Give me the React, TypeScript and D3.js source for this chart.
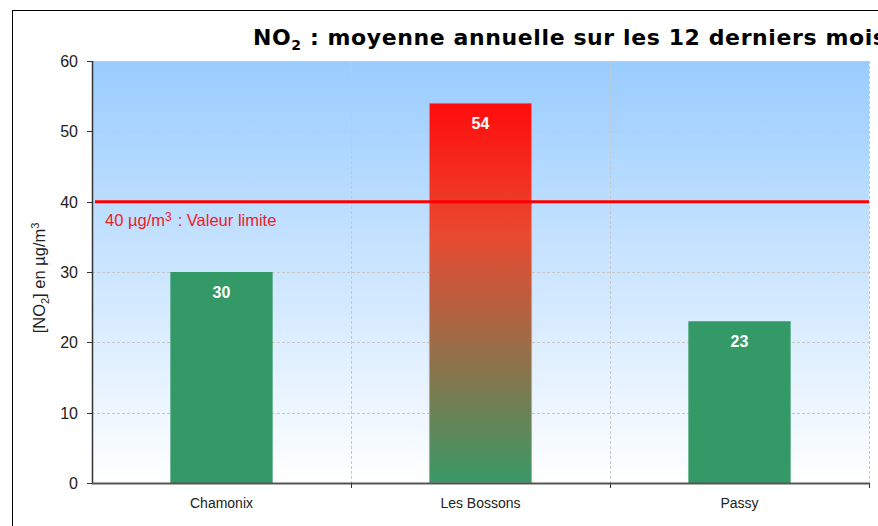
import * as d3 from "d3";

const stations = ["Chamonix", "Les Bossons", "Passy"];
const no2Values = [30, 54, 23];
const yTicks = [0, 10, 20, 30, 40, 50, 60];
const limitValue = 40;

const W = 878;
const H = 526;
const margin = { left: 92, top: 61, right: 9, bottom: 43 };

const App = () => {
  const innerW = W - margin.left - margin.right;
  const innerH = H - margin.top - margin.bottom;

  const x = d3.scaleBand<string>().domain(stations).range([0, innerW]).paddingInner(0).paddingOuter(0);
  const y = d3.scaleLinear().domain([0, 60]).range([innerH, 0]);
  const barW = x.bandwidth() * 0.395;

  const font = "'Liberation Sans', Arial, sans-serif";

  return (
    <div style={{ position: "fixed", left: 0, top: 0 }}>
      <svg width={W} height={H} style={{ display: "block", background: "#fff" }}>
        <defs>
          <linearGradient id="bg" x1="0" y1="0" x2="0" y2="1">
            <stop offset="0" stopColor="#99ccff" />
            <stop offset="1" stopColor="#ffffff" />
          </linearGradient>
          <linearGradient id="hot" x1="0" y1="0" x2="0" y2="1">
            <stop offset="0" stopColor="#ff0c0c" />
            <stop offset="0.35" stopColor="#e84a30" />
            <stop offset="1" stopColor="#3a9866" />
          </linearGradient>
        </defs>

        {/* outer frame */}
        <rect x={12.5} y={10.5} width={W} height={H} fill="none" stroke="#000" strokeWidth={1} />

        <text
          x={253}
          y={45}
          fontFamily="'DejaVu Sans', Verdana, sans-serif"
          fontWeight="bold"
          fontSize={22}
          letterSpacing={0.6}
          fill="#000"
        >
          NO<tspan fontSize={14} dy={5}>2</tspan>
          <tspan dy={-5}> : moyenne annuelle sur les 12 derniers mois</tspan>
        </text>

        <g transform={`translate(${margin.left},${margin.top})`}>
          <rect x={0} y={0} width={innerW} height={innerH} fill="url(#bg)" />

          {/* horizontal grid */}
          {yTicks.filter((t) => t > 0).map((t) => (
            <line
              key={"g" + t}
              x1={0}
              x2={innerW}
              y1={Math.round(y(t)) + 0.5}
              y2={Math.round(y(t)) + 0.5}
              stroke="#c8c8c8"
              strokeDasharray="3,2"
            />
          ))}
          {/* vertical grid */}
          {stations.map((s) => (
            <line
              key={"v" + s}
              x1={Math.round((x(s) ?? 0) + x.bandwidth()) + 0.5}
              x2={Math.round((x(s) ?? 0) + x.bandwidth()) + 0.5}
              y1={0}
              y2={innerH}
              stroke="#c8c8c8"
              strokeDasharray="3,2"
            />
          ))}

          {/* bars */}
          {stations.map((s, i) => {
            const v = no2Values[i];
            const bx = (x(s) ?? 0) + (x.bandwidth() - barW) / 2;
            const over = v > limitValue;
            return (
              <g key={s}>
                <rect
                  x={bx}
                  y={y(v)}
                  width={barW}
                  height={y(0) - y(v)}
                  fill={over ? "url(#hot)" : "#339966"}
                  stroke={over ? "#d9a0a0" : "none"}
                  strokeOpacity={0.6}
                  strokeWidth={1}
                />
                <text
                  x={bx + barW / 2}
                  y={y(v) + 26}
                  textAnchor="middle"
                  fontFamily={font}
                  fontWeight="bold"
                  fontSize={16}
                  fill="#fff"
                >
                  {v}
                </text>
              </g>
            );
          })}

          {/* limit line */}
          <line x1={3} x2={innerW} y1={y(limitValue)} y2={y(limitValue)} stroke="#ff0000" strokeWidth={3} />
          <text x={13} y={y(limitValue) + 24} fontFamily={font} fontSize={16.5} fill="#ee1c25">
            {limitValue} µg/m<tspan fontSize={12} dy={-5}>3</tspan>
            <tspan dy={5} dx={6}>: Valeur limite</tspan>
          </text>

          {/* y axis */}
          <line x1={0.5} x2={0.5} y1={0} y2={innerH} stroke="#333" strokeWidth={1.5} />
          {yTicks.map((t) => (
            <g key={"t" + t} transform={`translate(0,${Math.round(y(t)) + 0.5})`}>
              <line x1={-5} x2={0} stroke="#333" />
              <text x={-14} dy="0.35em" textAnchor="end" fontFamily={font} fontSize={16} fill="#222">
                {t}
              </text>
            </g>
          ))}

          {/* x axis */}
          <line x1={0} x2={innerW} y1={innerH + 0.5} y2={innerH + 0.5} stroke="#555" strokeWidth={2} />
          {stations.map((s) => (
            <g key={"x" + s}>
              <line
                x1={Math.round((x(s) ?? 0) + x.bandwidth()) + 0.5}
                x2={Math.round((x(s) ?? 0) + x.bandwidth()) + 0.5}
                y1={innerH}
                y2={innerH + 5}
                stroke="#333"
              />
              <text
                x={(x(s) ?? 0) + x.bandwidth() / 2}
                y={innerH + 25}
                textAnchor="middle"
                fontFamily={font}
                fontSize={14}
                fill="#222"
              >
                {s}
              </text>
            </g>
          ))}
        </g>

        {/* y axis title */}
        <text
          transform={`translate(45,278) rotate(-90)`}
          textAnchor="middle"
          fontFamily={font}
          fontSize={16.5}
          fill="#222"
        >
          [NO<tspan fontSize={11} dy={4}>2</tspan>
          <tspan dy={-4}>] en µg/m</tspan>
          <tspan fontSize={11} dy={-6}>3</tspan>
        </text>
      </svg>
    </div>
  );
};

export default App;
